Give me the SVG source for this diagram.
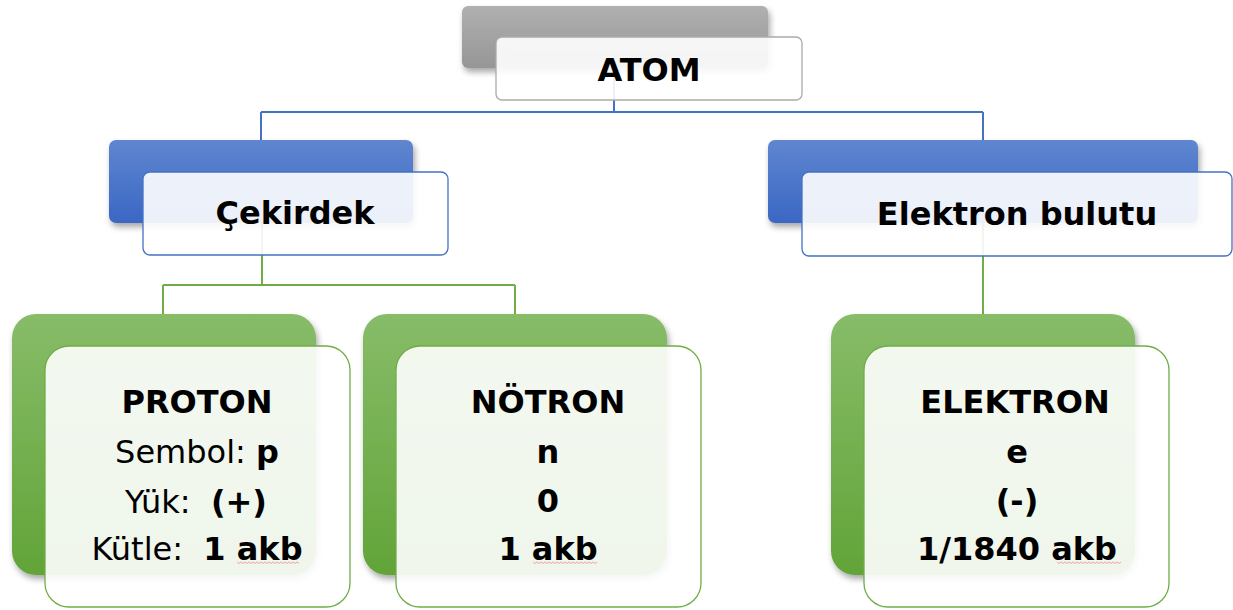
<svg xmlns="http://www.w3.org/2000/svg" width="1233" height="610" viewBox="0 0 1233 610">
<defs>
<linearGradient id="gGray" x1="0" y1="0" x2="0" y2="1"><stop offset="0" stop-color="#b0b0b0"/><stop offset="1" stop-color="#969696"/></linearGradient>
<linearGradient id="gBlue" x1="0" y1="0" x2="0" y2="1"><stop offset="0" stop-color="#5f86d0"/><stop offset="1" stop-color="#3a67c3"/></linearGradient>
<linearGradient id="gGreen" x1="0" y1="0" x2="0" y2="1"><stop offset="0" stop-color="#87bc69"/><stop offset="1" stop-color="#62a438"/></linearGradient>
<filter id="sh" x="-10%" y="-10%" width="125%" height="130%"><feDropShadow dx="2" dy="4" stdDeviation="3" flood-color="#000" flood-opacity="0.35"/></filter>
</defs>
<style>
.front{fill:#fff;fill-opacity:0.9;stroke-width:1.3}
.fg{stroke:#aaaaaa}.fb{stroke:#4472c4}.fgr{stroke:#70ad47}
.t{font-family:"DejaVu Sans",Verdana,sans-serif;font-size:32px;fill:#000;text-anchor:middle}
.b{font-weight:bold}
.cb{fill:none;stroke:#4472c4;stroke-width:2}
.cg{fill:none;stroke:#70ad47;stroke-width:2}
.sq{fill:none;stroke:#f2a5a5;stroke-width:1}
</style>
<g id="connectors">
<path class="cb" d="M614,68 V112 M261,112 H983 M261,112 V141 M983,112 V141"/>
<path class="cg" d="M262,222 V285 M163,285 H515 M163,285 V315 M515,285 V315 M983,222 V315"/>
</g>
<g id="atom">
<rect x="462" y="6" width="306" height="62" rx="6" fill="url(#gGray)" filter="url(#sh)"/>
<rect class="front fg" x="496" y="37" width="306" height="63" rx="6"/>
<text class="t b" x="649" y="81">ATOM</text>
</g>
<g id="cekirdek">
<rect x="109" y="140" width="304" height="83" rx="7" fill="url(#gBlue)" filter="url(#sh)"/>
<rect class="front fb" x="143" y="172" width="305" height="83" rx="7"/>
<text class="t b" x="295" y="224">Çekirdek</text>
</g>
<g id="elektron-bulutu">
<rect x="768" y="140" width="430" height="83" rx="7" fill="url(#gBlue)" filter="url(#sh)"/>
<rect class="front fb" x="802" y="172" width="430" height="84" rx="7"/>
<text class="t b" x="1017" y="225">Elektron bulutu</text>
</g>
<g id="proton">
<rect x="12" y="314" width="304" height="261" rx="24" fill="url(#gGreen)" filter="url(#sh)"/>
<rect class="front fgr" x="45" y="346" width="305" height="261" rx="24"/>
<text class="t b" x="197" y="413">PROTON</text>
<text class="t" x="197" y="463">Sembol: <tspan class="b">p</tspan></text>
<text class="t" x="196" y="513" xml:space="preserve">Yük:  <tspan class="b">(+)</tspan></text>
<text class="t" x="197" y="560" xml:space="preserve">Kütle:  <tspan class="b">1 akb</tspan></text>
<path class="sq" d="M237,562 l2,1.5 l2,-1.5 l2,1.5 l2,-1.5 l2,1.5 l2,-1.5 l2,1.5 l2,-1.5 l2,1.5 l2,-1.5 l2,1.5 l2,-1.5 l2,1.5 l2,-1.5 l2,1.5 l2,-1.5 l2,1.5 l2,-1.5 l2,1.5 l2,-1.5 l2,1.5 l2,-1.5 l2,1.5 l2,-1.5 l2,1.5 l2,-1.5 l2,1.5 l2,-1.5 l2,1.5 l2,-1.5 l2,1.5"/>
</g>
<g id="notron">
<rect x="363" y="314" width="304" height="261" rx="24" fill="url(#gGreen)" filter="url(#sh)"/>
<rect class="front fgr" x="396" y="346" width="305" height="261" rx="24"/>
<text class="t b" x="548" y="413">NÖTRON</text>
<text class="t b" x="548" y="463">n</text>
<text class="t b" x="548" y="512">0</text>
<text class="t b" x="548" y="560">1 akb</text>
<path class="sq" d="M533,562 l2,1.5 l2,-1.5 l2,1.5 l2,-1.5 l2,1.5 l2,-1.5 l2,1.5 l2,-1.5 l2,1.5 l2,-1.5 l2,1.5 l2,-1.5 l2,1.5 l2,-1.5 l2,1.5 l2,-1.5 l2,1.5 l2,-1.5 l2,1.5 l2,-1.5 l2,1.5 l2,-1.5 l2,1.5 l2,-1.5 l2,1.5 l2,-1.5 l2,1.5 l2,-1.5 l2,1.5 l2,-1.5 l2,1.5 l2,-1.5"/>
</g>
<g id="elektron">
<rect x="831" y="314" width="304" height="261" rx="24" fill="url(#gGreen)" filter="url(#sh)"/>
<rect class="front fgr" x="864" y="346" width="305" height="261" rx="24"/>
<text class="t b" x="1015" y="413">ELEKTRON</text>
<text class="t b" x="1017" y="463">e</text>
<text class="t b" x="1017" y="512">(-)</text>
<text class="t b" x="1017" y="560">1/1840 akb</text>
<path class="sq" d="M1057,562 l2,1.5 l2,-1.5 l2,1.5 l2,-1.5 l2,1.5 l2,-1.5 l2,1.5 l2,-1.5 l2,1.5 l2,-1.5 l2,1.5 l2,-1.5 l2,1.5 l2,-1.5 l2,1.5 l2,-1.5 l2,1.5 l2,-1.5 l2,1.5 l2,-1.5 l2,1.5 l2,-1.5 l2,1.5 l2,-1.5 l2,1.5 l2,-1.5 l2,1.5 l2,-1.5 l2,1.5 l2,-1.5 l2,1.5 l2,-1.5"/>
</g>
</svg>
